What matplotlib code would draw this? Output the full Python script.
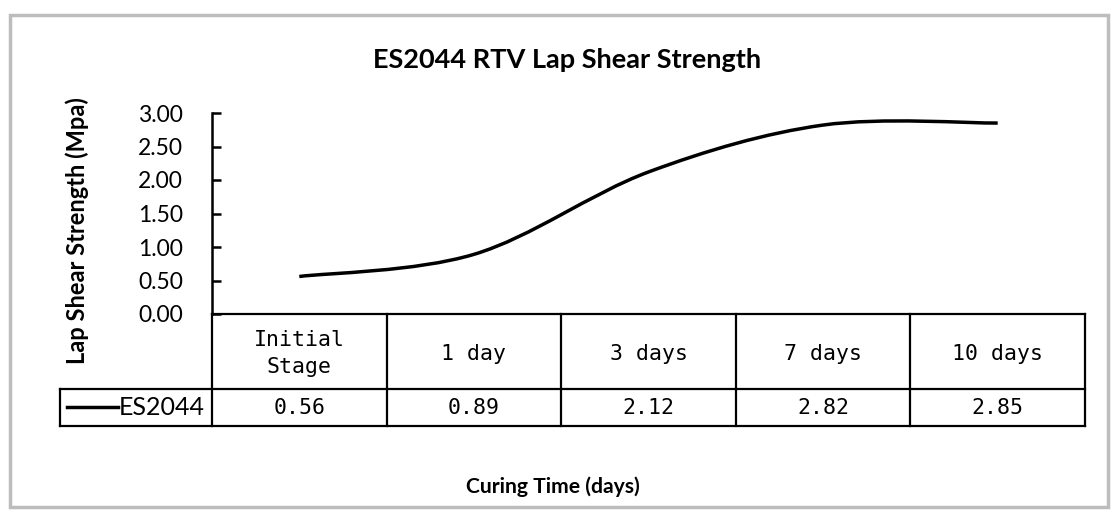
import matplotlib
matplotlib.use("Agg")
import matplotlib.pyplot as plt
from matplotlib.path import Path
from matplotlib.patches import PathPatch, Rectangle
import numpy as np

# ---- data ----
categories = ["Initial\nStage", "1 day", "3 days", "7 days", "10 days"]
values = [0.56, 0.89, 2.12, 2.82, 2.85]
series_name = "ES2044"
yticks = [0.0, 0.5, 1.0, 1.5, 2.0, 2.5, 3.0]
title = "ES2044 RTV Lap Shear Strength"
ylabel = "Lap Shear Strength (Mpa)"
xlabel = "Curing Time (days)"

W, H = 1113, 513
fig = plt.figure(figsize=(W / 100, H / 100), dpi=100)
fig.patch.set_facecolor("white")

# outer (scanned) chart border
fig.patches.append(Rectangle((10 / W, 1 - 507 / H), 1098 / W, 492 / H,
                             transform=fig.transFigure, fill=False,
                             edgecolor="#bdbdbd", linewidth=2.5))

# layout in pixels
L, R = 212, 1085
TOP, BOT = 113, 314
HDR_BOT, TBL_BOT = 389, 426
LEG_L = 60

def fx(px):
    return px / W

def fy(py):
    return 1 - py / H

ax = fig.add_axes([fx(L), fy(BOT), fx(R) - fx(L), fy(TOP) - fy(BOT)])
n = len(categories)
x = np.arange(n)
ax.set_xlim(-0.5, n - 0.5)
ax.set_ylim(0, 3.0)
ax.set_yticks(yticks)
ax.set_yticklabels([f"{t:.2f}" for t in yticks], fontfamily="Lato", fontsize=16.5)
ax.tick_params(axis="y", direction="in", length=6.5, width=1.8, pad=21)
ax.set_xticks([])
for s in ["top", "right", "bottom"]:
    ax.spines[s].set_visible(False)
ax.spines["left"].set_linewidth(1.8)

# smoothed line (Excel-style Bezier through the data points)
pts = np.column_stack([x, values]).astype(float)
ext = np.vstack([pts[0], pts, pts[-1]])
verts = [tuple(pts[0])]
codes = [Path.MOVETO]
for i in range(n - 1):
    p0, p1, p2, p3 = ext[i], ext[i + 1], ext[i + 2], ext[i + 3]
    c1 = p1 + (p2 - p0) / 6.0
    c2 = p2 - (p3 - p1) / 6.0
    verts += [tuple(c1), tuple(c2), tuple(p2)]
    codes += [Path.CURVE4] * 3
ax.add_patch(PathPatch(Path(verts, codes), fill=False, edgecolor="black",
                       linewidth=2.5, capstyle="butt", clip_on=False))

# data table
axt = fig.add_axes([fx(L), fy(TBL_BOT), fx(R) - fx(L), fy(BOT) - fy(TBL_BOT)])
axt.set_xlim(-0.5, n - 0.5)
axt.set_ylim(TBL_BOT, BOT)
axt.axis("off")
leg_x = -0.5 - (L - LEG_L) / ((R - L) / n)
lw = 1.6
axt.plot([-0.5, n - 0.5], [BOT, BOT], color="black", lw=lw, clip_on=False)
axt.plot([leg_x, n - 0.5], [HDR_BOT, HDR_BOT], color="black", lw=lw, clip_on=False)
axt.plot([leg_x, n - 0.5], [TBL_BOT, TBL_BOT], color="black", lw=lw, clip_on=False)
axt.plot([leg_x, leg_x], [HDR_BOT, TBL_BOT], color="black", lw=lw, clip_on=False)
for k in range(n + 1):
    axt.plot([k - 0.5, k - 0.5], [BOT, TBL_BOT], color="black", lw=lw, clip_on=False)
hdr_mid = (BOT + HDR_BOT) / 2
row_mid = (HDR_BOT + TBL_BOT) / 2
for k, (c, v) in enumerate(zip(categories, values)):
    axt.text(k, hdr_mid + 2, c, ha="center", va="center", fontfamily="DejaVu Sans Mono",
             fontsize=15.5, linespacing=1.4)
    axt.text(k, row_mid + 1, f"{v:.2f}", ha="center", va="center",
             fontfamily="DejaVu Sans Mono", fontsize=15.5)
# legend key in table
unit = (R - L) / n
kx0 = leg_x + (67 - LEG_L) / unit
kx1 = leg_x + (118 - LEG_L) / unit
axt.plot([kx0, kx1], [row_mid - 1, row_mid - 1], color="black", lw=2.5, clip_on=False)
axt.text(kx1 + 1 / unit, row_mid, series_name, ha="left", va="center",
         fontfamily="Lato", fontsize=18)

# titles
fig.text(fx(567), fy(60), title, ha="center", va="center", fontfamily="Lato",
         fontweight="bold", fontsize=19.5)
fig.text(fx(77), fy(231), ylabel, ha="center", va="center", rotation=90,
         fontfamily="Lato", fontweight="bold", fontsize=17)
fig.text(fx(553), fy(487), xlabel, ha="center", va="center", fontfamily="Lato",
         fontweight="bold", fontsize=15.2)

fig.savefig("out.png", dpi=100, facecolor="white")
